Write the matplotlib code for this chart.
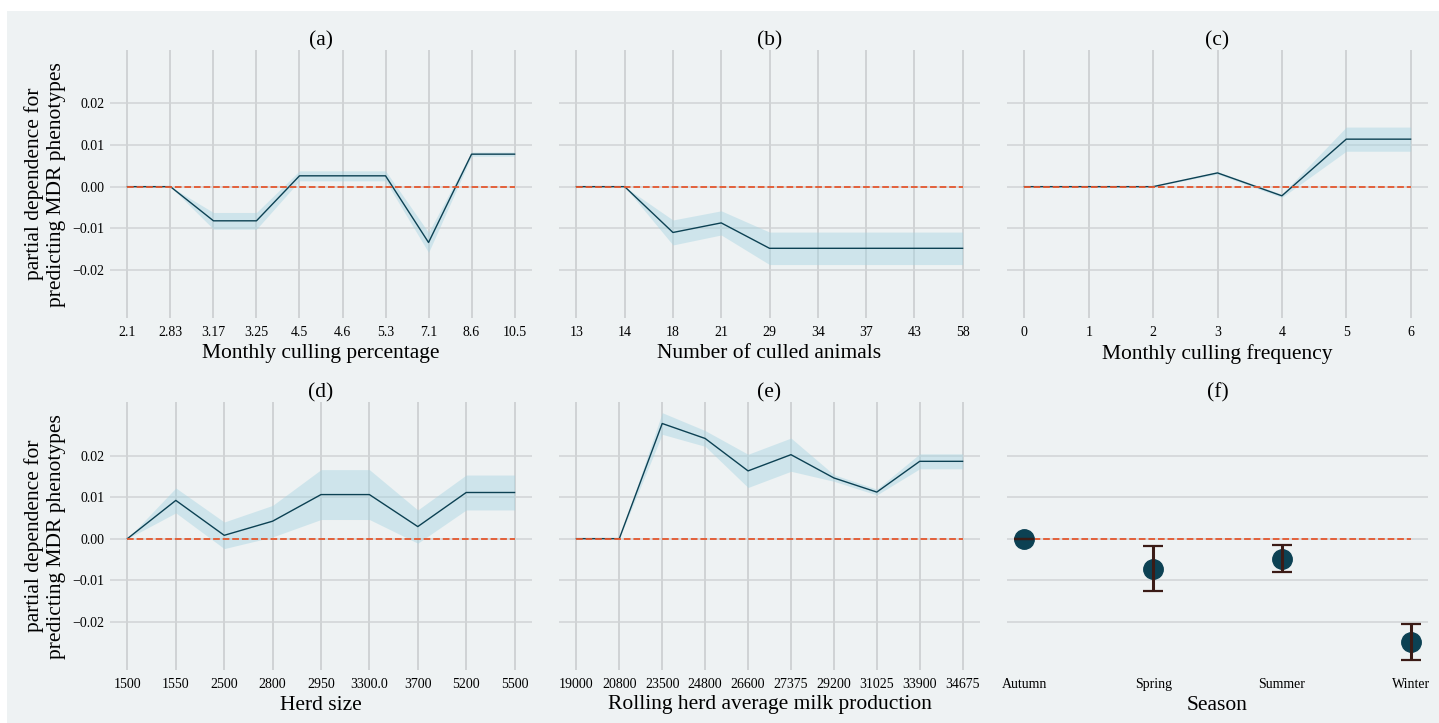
import matplotlib

matplotlib.use("Agg")
import matplotlib.pyplot as plt
from matplotlib.patches import Rectangle

# partial dependence of the MDR prediction on each herd feature,
# with the half-width of the shaded band around every point
cull_pct_labels = ["2.1", "2.83", "3.17", "3.25", "4.5", "4.6", "5.3", "7.1", "8.6", "10.5"]
cull_pct_pd = [0.0, 0.0, -0.0082, -0.0082, 0.0026, 0.0026, 0.0026, -0.0134, 0.0078, 0.0078]
cull_pct_ci = [0.0, 0.0, 0.0020, 0.0020, 0.0012, 0.0012, 0.0012, 0.0024, 0.0005, 0.0005]

culled_labels = ["13", "14", "18", "21", "29", "34", "37", "43", "58"]
culled_pd = [0.0, 0.0, -0.0110, -0.0087, -0.0148, -0.0148, -0.0148, -0.0148, -0.0148]
culled_ci = [0.0, 0.0, 0.0030, 0.0029, 0.0039, 0.0039, 0.0039, 0.0039, 0.0039]

freq_labels = ["0", "1", "2", "3", "4", "5", "6"]
freq_pd = [0.0, 0.0, 0.0, 0.0033, -0.0022, 0.0114, 0.0114]
freq_ci = [0.0, 0.0, 0.0, 0.0003, 0.0004, 0.0029, 0.0029]

herd_labels = ["1500", "1550", "2500", "2800", "2950", "3300.0", "3700", "5200", "5500"]
herd_pd = [0.0, 0.0092, 0.0008, 0.0042, 0.0106, 0.0106, 0.0029, 0.0111, 0.0111]
herd_ci = [0.0, 0.0030, 0.0032, 0.0038, 0.0060, 0.0060, 0.0040, 0.0042, 0.0042]

milk_labels = ["19000", "20800", "23500", "24800", "26600", "27375", "29200", "31025", "33900", "34675"]
milk_pd = [0.0, 0.0, 0.0277, 0.0241, 0.0163, 0.0202, 0.0146, 0.0112, 0.0186, 0.0186]
milk_ci = [0.0, 0.0, 0.0026, 0.0019, 0.0040, 0.0040, 0.0008, 0.0007, 0.0018, 0.0018]

season_labels = ["Autumn", "Spring", "Summer", "Winter"]
season_pd = [0.0, -0.0072, -0.0048, -0.0249]
season_err = [0.0, 0.0054, 0.0033, 0.0043]

BG = "#eef2f3"
GRID = "#d0d3d5"
LINE = "#0c4153"
BAND = "#a8d5e2"
ZERO = "#e4572e"
ERR = "#3b1b16"

W, H = 1439, 723
YLIM = (-0.0316, 0.0328)
YLABEL = "partial dependence for\npredicting MDR phenotypes"

plt.rcParams["font.family"] = ["Liberation Serif", "DejaVu Serif"]


def box(x0, y0, x1, y1):
    # pixel box (top-left origin) -> figure fraction rect
    return [x0 / W, 1 - y1 / H, (x1 - x0) / W, (y1 - y0) / H]


def style(ax, labels, xlabel, title, first_col, xgrid=True):
    ax.set_facecolor(BG)
    for s in ax.spines.values():
        s.set_visible(False)
    ax.set_ylim(*YLIM)
    ax.set_yticks([-0.02, -0.01, 0.0, 0.01, 0.02])
    ax.set_xticks(range(len(labels)))
    ax.set_xticklabels(labels)
    ax.margins(x=0.045)
    ax.tick_params(axis="x", length=0, labelsize=10, pad=5.5)
    ax.tick_params(axis="y", length=0, labelsize=10, pad=4, labelleft=first_col)
    ax.grid(axis="y", color=GRID, lw=1.1)
    if xgrid:
        ax.grid(axis="x", color=GRID, lw=1.4)
    ax.set_axisbelow(True)
    ax.set_xlabel(xlabel, fontsize=15.5, labelpad=3.5)
    ax.set_title(title, fontsize=15.5, pad=2)
    if first_col:
        ax.set_ylabel(YLABEL, fontsize=15.5, labelpad=5)


def pd_panel(ax, labels, pd, ci, xlabel, title, first_col):
    x = range(len(labels))
    lo = [p - c for p, c in zip(pd, ci)]
    hi = [p + c for p, c in zip(pd, ci)]
    ax.fill_between(x, lo, hi, color=BAND, alpha=0.45, lw=0)
    ax.plot(x, pd, color=LINE, lw=1.0)
    ax.plot(x, [0.0] * len(labels), color=ZERO, lw=1.3, ls="--")
    style(ax, labels, xlabel, title, first_col)


fig = plt.figure(figsize=(W / 100, H / 100), dpi=100, facecolor="white")
fig.add_artist(Rectangle((7 / W, 0), 1 - 7 / W, 1 - 11 / H,
                         transform=fig.transFigure, facecolor=BG,
                         edgecolor="none", zorder=-10))

cols = [(110, 532), (559, 980), (1007, 1428)]
rows = [(50, 318.3), (402.3, 670)]

ax = fig.add_axes(box(cols[0][0], rows[0][0], cols[0][1], rows[0][1]))
pd_panel(ax, cull_pct_labels, cull_pct_pd, cull_pct_ci,
         "Monthly culling percentage", "(a)", True)

ax = fig.add_axes(box(cols[1][0], rows[0][0], cols[1][1], rows[0][1]))
pd_panel(ax, culled_labels, culled_pd, culled_ci,
         "Number of culled animals", "(b)", False)

ax = fig.add_axes(box(cols[2][0], rows[0][0], cols[2][1], rows[0][1]))
pd_panel(ax, freq_labels, freq_pd, freq_ci,
         "Monthly culling frequency", "(c)", False)

ax = fig.add_axes(box(cols[0][0], rows[1][0], cols[0][1], rows[1][1]))
pd_panel(ax, herd_labels, herd_pd, herd_ci, "Herd size", "(d)", True)

ax = fig.add_axes(box(cols[1][0], rows[1][0], cols[1][1], rows[1][1]))
pd_panel(ax, milk_labels, milk_pd, milk_ci,
         "Rolling herd average milk production", "(e)", False)

# season is categorical: points with error bars instead of a band
ax = fig.add_axes(box(cols[2][0], rows[1][0], cols[2][1], rows[1][1]))
xs = range(len(season_labels))
ax.plot(xs, [0.0] * len(season_labels), color=ZERO, lw=1.3, ls="--", zorder=2)
_, caps, bars = ax.errorbar(xs, season_pd, yerr=season_err, fmt="o", ms=14,
                            color=LINE, ecolor=ERR, elinewidth=2.2, capsize=7,
                            capthick=1.6, zorder=3)
for artist in list(caps) + list(bars):
    artist.set_zorder(4)
style(ax, season_labels, "Season", "(f)", False, xgrid=False)

fig.savefig("out.png", dpi=100, facecolor="white")
